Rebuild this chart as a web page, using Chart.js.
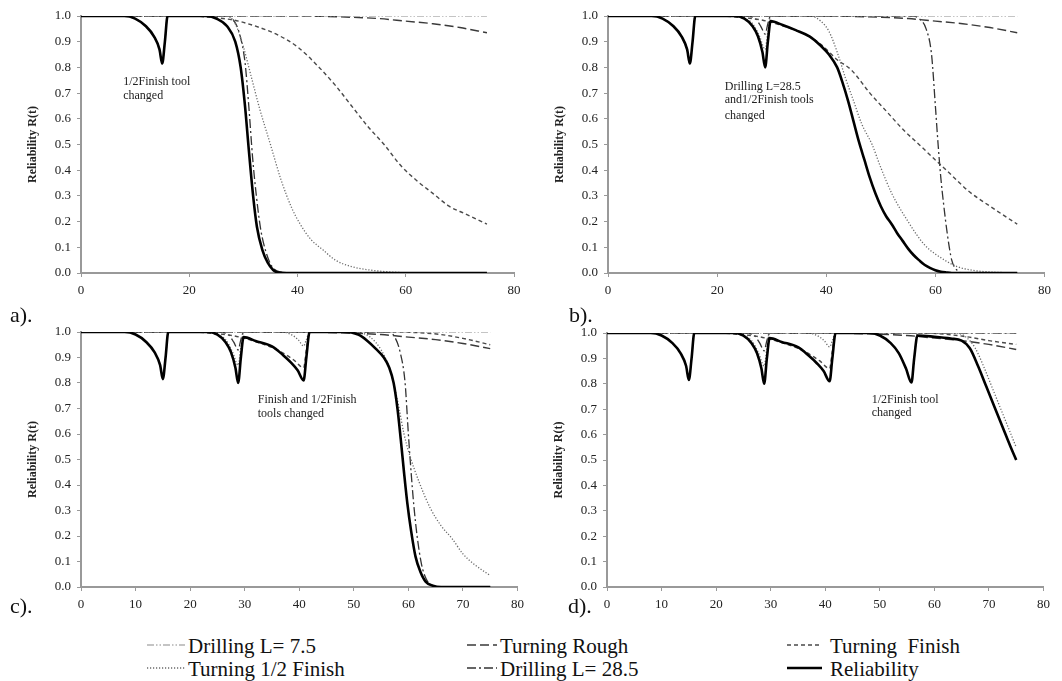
<!DOCTYPE html>
<html>
<head>
<meta charset="utf-8">
<script src="https://cdn.jsdelivr.net/npm/chart.js@4.4.1/dist/chart.umd.min.js"></script>
<style>
body { margin: 0; background: #fff; width: 1062px; height: 681px; overflow: hidden; position: relative; font-family: "Liberation Serif", "Times New Roman", serif; }
.panel { position: absolute; width: 530px; height: 300px; }
.tag { position: absolute; font-family: "Liberation Serif", serif; font-size: 22px; line-height: 22px; color: #111; }
.leg { position: absolute; height: 21px; }
.leg svg { position: absolute; left: 0; top: 0; }
.leg span { position: absolute; top: 0; line-height: 21px; color: #111; white-space: pre; }
</style>
</head>
<body>
<div class="panel" style="left:0;top:0"><canvas id="chartA"></canvas></div>
<div class="panel" style="left:527px;top:0"><canvas id="chartB"></canvas></div>
<div class="panel" style="left:0;top:316px"><canvas id="chartC"></canvas></div>
<div class="panel" style="left:526px;top:316px"><canvas id="chartD"></canvas></div>
<div class="tag" style="left:10px;top:304px">a).</div>
<div class="tag" style="left:569px;top:304px">b).</div>
<div class="tag" style="left:10px;top:595px">c).</div>
<div class="tag" style="left:568px;top:595px">d).</div>
<div id="legend"></div>
<script>
// series names (legend order)
const names = ['Drilling L= 7.5', 'Turning Rough', 'Turning  Finish', 'Turning 1/2 Finish', 'Drilling L= 28.5', 'Reliability'];

// curves shared by all four panels
const drill75All = [[0,1],[75,1]];
const roughAll = [[0,1],[40,1],[50,0.995],[55,0.99],[60,0.98],[65,0.97],[70,0.955],[75,0.935]];

// a) 1/2 Finish tool changed at 16
const relA = [[0,1],[8,1],[10,0.99],[12,0.96],[13.5,0.92],[14.5,0.87],[15,0.815],[15.5,0.9],[16,1],[23,1],[25,0.99],[27,0.96],[28.5,0.9],[29.5,0.8],[30.3,0.65],[31,0.48],[31.8,0.3],[32.5,0.18],[33.5,0.09],[34.5,0.04],[35.5,0.012],[36.5,0.002],[40,0],[75,0]];
const drill285A = [[0,1],[27,1],[28.3,0.98],[29.3,0.93],[30.3,0.82],[31,0.65],[31.7,0.45],[32.4,0.3],[33.2,0.17],[34.2,0.08],[35.3,0.025],[36.8,0.004],[40,0],[75,0]];
const halfA = [[0,1],[8,1],[10,0.99],[12,0.96],[13.5,0.92],[14.5,0.87],[15,0.815],[15.5,0.9],[16,1],[27,1],[28.5,0.97],[30,0.88],[31.5,0.76],[33,0.64],[35,0.5],[37,0.36],[39,0.25],[40.5,0.19],[42.5,0.13],[44.7,0.09],[47,0.05],[50,0.025],[54,0.01],[58,0.003],[62,0],[75,0]];
const finishA = [[0,1],[20,1],[24,0.995],[28,0.985],[30,0.975],[33,0.955],[36,0.93],[40,0.88],[44,0.8],[47,0.73],[50,0.65],[53,0.57],[56,0.5],[59,0.42],[62,0.36],[65,0.31],[68,0.26],[71,0.23],[75,0.19]];

// b) Drilling L=28.5 and 1/2 Finish changed at 30
const relB = [[0,1],[8,1],[10,0.99],[12,0.96],[13.5,0.92],[14.5,0.87],[15,0.815],[15.5,0.9],[16,1],[23,1],[25,0.99],[26.5,0.96],[27.5,0.92],[28.3,0.86],[28.8,0.8],[29.3,0.9],[29.8,0.98],[32,0.965],[34.4,0.945],[37,0.92],[38.9,0.886],[40.5,0.85],[42,0.8],[43,0.74],[44,0.67],[45,0.59],[46,0.51],[47,0.44],[48,0.37],[49,0.31],[50,0.26],[51,0.22],[52,0.19],[53,0.155],[54,0.125],[55,0.095],[56,0.07],[57,0.05],[58,0.032],[59,0.02],[60,0.011],[61,0.005],[62,0.002],[63,0],[75,0]];
const drill285B = [[0,1],[25,1],[27,0.99],[28,0.96],[28.8,0.93],[29.3,0.97],[29.8,1],[56,1],[57,0.99],[58.3,0.95],[59.3,0.85],[60,0.65],[60.5,0.5],[61,0.37],[61.5,0.27],[62.2,0.15],[63,0.05],[64,0.01],[65,0],[75,0]];
const halfB = [[0,1],[8,1],[10,0.99],[12,0.96],[13.5,0.92],[14.5,0.87],[15,0.815],[15.5,0.9],[16,1],[23,1],[25,0.99],[26.5,0.97],[27.8,0.92],[28.8,0.87],[29.3,0.94],[29.8,1],[37,1],[39,0.98],[40.5,0.94],[42,0.86],[43.5,0.76],[45,0.67],[46.5,0.58],[48.4,0.5],[50,0.41],[52,0.31],[55,0.2],[58,0.11],[61.7,0.05],[64,0.025],[67,0.01],[70,0.004],[75,0]];
const finishB = [[0,1],[20,1],[24,0.995],[28,0.985],[30,0.975],[33,0.955],[36,0.93],[39,0.89],[42,0.83],[44.6,0.79],[48,0.7],[51,0.63],[54,0.56],[57,0.5],[60,0.44],[63,0.38],[66,0.32],[70,0.26],[75,0.19]];

// c) Finish and 1/2 Finish changed at 42
const relC = [[0,1],[8,1],[10,0.99],[12,0.96],[13.5,0.92],[14.5,0.87],[15,0.815],[15.5,0.9],[16,1],[23,1],[25,0.99],[26.5,0.96],[27.5,0.92],[28.3,0.86],[28.8,0.8],[29.3,0.9],[29.8,0.98],[32,0.965],[35,0.944],[37,0.91],[38.5,0.88],[39.7,0.85],[40.8,0.81],[41.3,0.9],[41.9,1],[48,1],[50.8,0.99],[52.5,0.965],[54,0.935],[55.5,0.9],[56.5,0.86],[57.3,0.8],[58,0.7],[58.6,0.58],[59.2,0.45],[59.8,0.33],[60.5,0.22],[61.3,0.12],[62.2,0.06],[63.2,0.02],[64.5,0.005],[66,0],[75,0]];
const drill285C = [[0,1],[25,1],[27,0.99],[28,0.96],[28.8,0.93],[29.3,0.97],[29.8,1],[56.5,1],[57.5,0.98],[58.5,0.92],[59.4,0.8],[60,0.6],[60.5,0.45],[61,0.32],[61.6,0.2],[62.4,0.09],[63.3,0.03],[64.5,0.005],[66,0],[75,0]];
const halfC = [[0,1],[8,1],[10,0.99],[12,0.96],[13.5,0.92],[14.5,0.87],[15,0.815],[15.5,0.9],[16,1],[23,1],[25,0.99],[26.5,0.97],[27.8,0.92],[28.8,0.87],[29.3,0.94],[29.8,1],[37,1],[38.5,0.99],[39.8,0.97],[40.8,0.945],[41.3,0.97],[41.9,1],[50,1],[53,0.98],[55,0.93],[56.5,0.86],[57.5,0.78],[58.3,0.7],[59.2,0.6],[60.2,0.52],[62,0.41],[64,0.31],[66,0.24],[68,0.19],[70,0.13],[72,0.09],[75,0.045]];
const finishC = [[0,1],[20,1],[24,0.995],[28,0.985],[30,0.975],[33,0.955],[36,0.93],[39,0.89],[40.8,0.86],[41.3,0.93],[41.9,1],[58,1],[62,0.997],[66,0.99],[70,0.975],[75,0.95]];

// d) 1/2 Finish changed at 57
const relD = [[0,1],[8,1],[10,0.99],[12,0.96],[13.5,0.92],[14.5,0.87],[15,0.815],[15.5,0.9],[16,1],[23,1],[25,0.99],[26.5,0.96],[27.5,0.92],[28.3,0.86],[28.8,0.8],[29.3,0.9],[29.8,0.98],[32,0.965],[35,0.944],[37,0.91],[38.5,0.88],[39.7,0.85],[40.8,0.81],[41.3,0.9],[41.9,1],[48,1],[50,0.99],[52,0.96],[53.5,0.92],[54.8,0.86],[55.8,0.805],[56.3,0.9],[56.9,0.99],[60,0.985],[63,0.978],[65,0.97],[66.5,0.94],[68,0.87],[69.5,0.79],[71,0.71],[72.5,0.63],[74,0.55],[75,0.5]];
const drill285D = [[0,1],[25,1],[27,0.99],[28,0.96],[28.8,0.93],[29.3,0.97],[29.8,1],[75,1]];
const halfD = [[0,1],[8,1],[10,0.99],[12,0.96],[13.5,0.92],[14.5,0.87],[15,0.815],[15.5,0.9],[16,1],[23,1],[25,0.99],[26.5,0.97],[27.8,0.92],[28.8,0.87],[29.3,0.94],[29.8,1],[37,1],[38.5,0.99],[39.8,0.97],[40.8,0.945],[41.3,0.97],[41.9,1],[48,1],[50,0.99],[52,0.96],[53.5,0.92],[54.8,0.86],[55.8,0.81],[56.3,0.9],[56.9,1],[64,1],[66,0.98],[67.5,0.94],[69,0.87],[70.5,0.79],[72,0.71],[73.5,0.63],[75,0.55]];
const finishD = [[0,1],[20,1],[24,0.995],[28,0.985],[30,0.975],[33,0.955],[36,0.93],[39,0.89],[40.8,0.86],[41.3,0.93],[41.9,1],[58,1],[62,0.995],[66,0.985],[70,0.97],[75,0.955]];

// line looks, same order as names
const styles = [
    { color: '#8a8a8a', width: 1.2, dash: [7, 2, 1.5, 2, 1.5, 2] },
    { color: '#3a3a3a', width: 1.4, dash: [9, 4] },
    { color: '#4a4a4a', width: 1.4, dash: [4, 3] },
    { color: '#6a6a6a', width: 1.3, dash: [1.2, 1.8] },
    { color: '#333333', width: 1.3, dash: [9, 3, 2, 3] },
    { color: '#000000', width: 2.6, dash: [] }
];

Chart.defaults.font.family = '"Liberation Serif", "Times New Roman", serif';
Chart.defaults.color = '#222';

// text notes written inside each panel
const notePlugin = {
    id: 'note',
    afterDatasetsDraw(chart, args, opts) {
        if (!opts.lines) return;
        const { ctx, scales: { x, y } } = chart;
        ctx.save();
        ctx.font = '12px "Liberation Serif"';
        ctx.fillStyle = '#222';
        ctx.textBaseline = 'middle';
        opts.lines.forEach((txt, i) => {
            ctx.fillText(txt, x.getPixelForValue(opts.t), y.getPixelForValue(opts.r[i]));
        });
        ctx.restore();
    }
};

function makeChart(id, sets, step, pad, xHeight, note) {
    return new Chart(document.getElementById(id), {
        type: 'line',
        data: {
            datasets: sets.map((pts, i) => ({
                label: names[i],
                data: pts.map(p => ({ x: p[0], y: p[1] })),
                borderColor: styles[i].color,
                borderWidth: styles[i].width,
                borderDash: styles[i].dash,
                pointRadius: 0,
                fill: false,
                cubicInterpolationMode: 'monotone',
                order: i === 5 ? 0 : 1
            }))
        },
        options: {
            responsive: true,
            maintainAspectRatio: false,
            animation: false,
            layout: { padding: pad },
            plugins: { legend: { display: false }, tooltip: { enabled: false }, note: note },
            scales: {
                x: {
                    type: 'linear',
                    min: 0,
                    max: 80,
                    ticks: { stepSize: step, font: { size: 13 }, padding: 6, maxRotation: 0 },
                    grid: { drawOnChartArea: false, drawTicks: true, tickLength: 4, color: '#999' },
                    border: { color: '#999', width: 2 },
                    afterFit: s => { s.height = xHeight; }
                },
                y: {
                    min: 0,
                    max: 1,
                    ticks: { stepSize: 0.1, font: { size: 13 }, padding: 6, callback: v => v.toFixed(1) },
                    grid: { drawOnChartArea: false, drawTicks: true, tickLength: 4, color: '#999' },
                    border: { color: '#999', width: 2 },
                    title: { display: true, text: 'Reliability R(t)', font: { size: 12, weight: 'bold' }, padding: { top: 26, bottom: 0 } },
                    afterFit: s => { s.width = 81; }
                }
            }
        },
        plugins: [notePlugin]
    });
}

makeChart('chartA', [drill75All, roughAll, finishA, halfA, drill285A, relA], 20,
    { top: 16, right: 16, left: 0, bottom: 0 }, 27,
    { t: 7.8, r: [0.743, 0.689], lines: ['1/2Finish tool', 'changed'] });
makeChart('chartB', [drill75All, roughAll, finishB, halfB, drill285B, relB], 20,
    { top: 16, right: 10, left: 0, bottom: 0 }, 27,
    { t: 21.4, r: [0.724, 0.672, 0.613], lines: ['Drilling L=28.5', 'and1/2Finish tools', 'changed'] });
makeChart('chartC', [drill75All, roughAll, finishC, halfC, drill285C, relC], 10,
    { top: 16, right: 7, left: 0, bottom: 0 }, 29,
    { t: 32.4, r: [0.734, 0.678], lines: ['Finish and 1/2Finish', 'tools changed'] });
makeChart('chartD', [drill75All, roughAll, finishD, halfD, drill285D, relD], 10,
    { top: 17, right: 7, left: 0, bottom: 0 }, 29,
    { t: 48.5, r: [0.738, 0.685], lines: ['1/2Finish tool', 'changed'] });

// legend below the panels, 3 columns x 2 rows
const legCols = [{ s: 147, w: 38, t: 41 }, { s: 467, w: 30, t: 33 }, { s: 787, w: 35, t: 43 }];
const legRows = [634, 657];
const legend = document.getElementById('legend');
names.forEach((name, i) => {
    const col = legCols[i % 3];
    const row = legRows[Math.floor(i / 3)];
    const st = styles[i];
    const item = document.createElement('div');
    item.className = 'leg';
    item.style.left = col.s + 'px';
    item.style.top = row + 'px';
    const svg = `<svg width="${col.w}" height="21"><line x1="0" y1="11" x2="${col.w}" y2="11" stroke="${st.color}" stroke-width="${st.width}" stroke-dasharray="${st.dash.join(' ') || 'none'}"/></svg>`;
    item.innerHTML = svg;
    const label = document.createElement('span');
    label.style.left = col.t + 'px';
    label.style.font = '21px "Liberation Serif", "Times New Roman", serif';
    label.textContent = name;
    item.appendChild(label);
    legend.appendChild(item);
});
</script>
</body>
</html>
